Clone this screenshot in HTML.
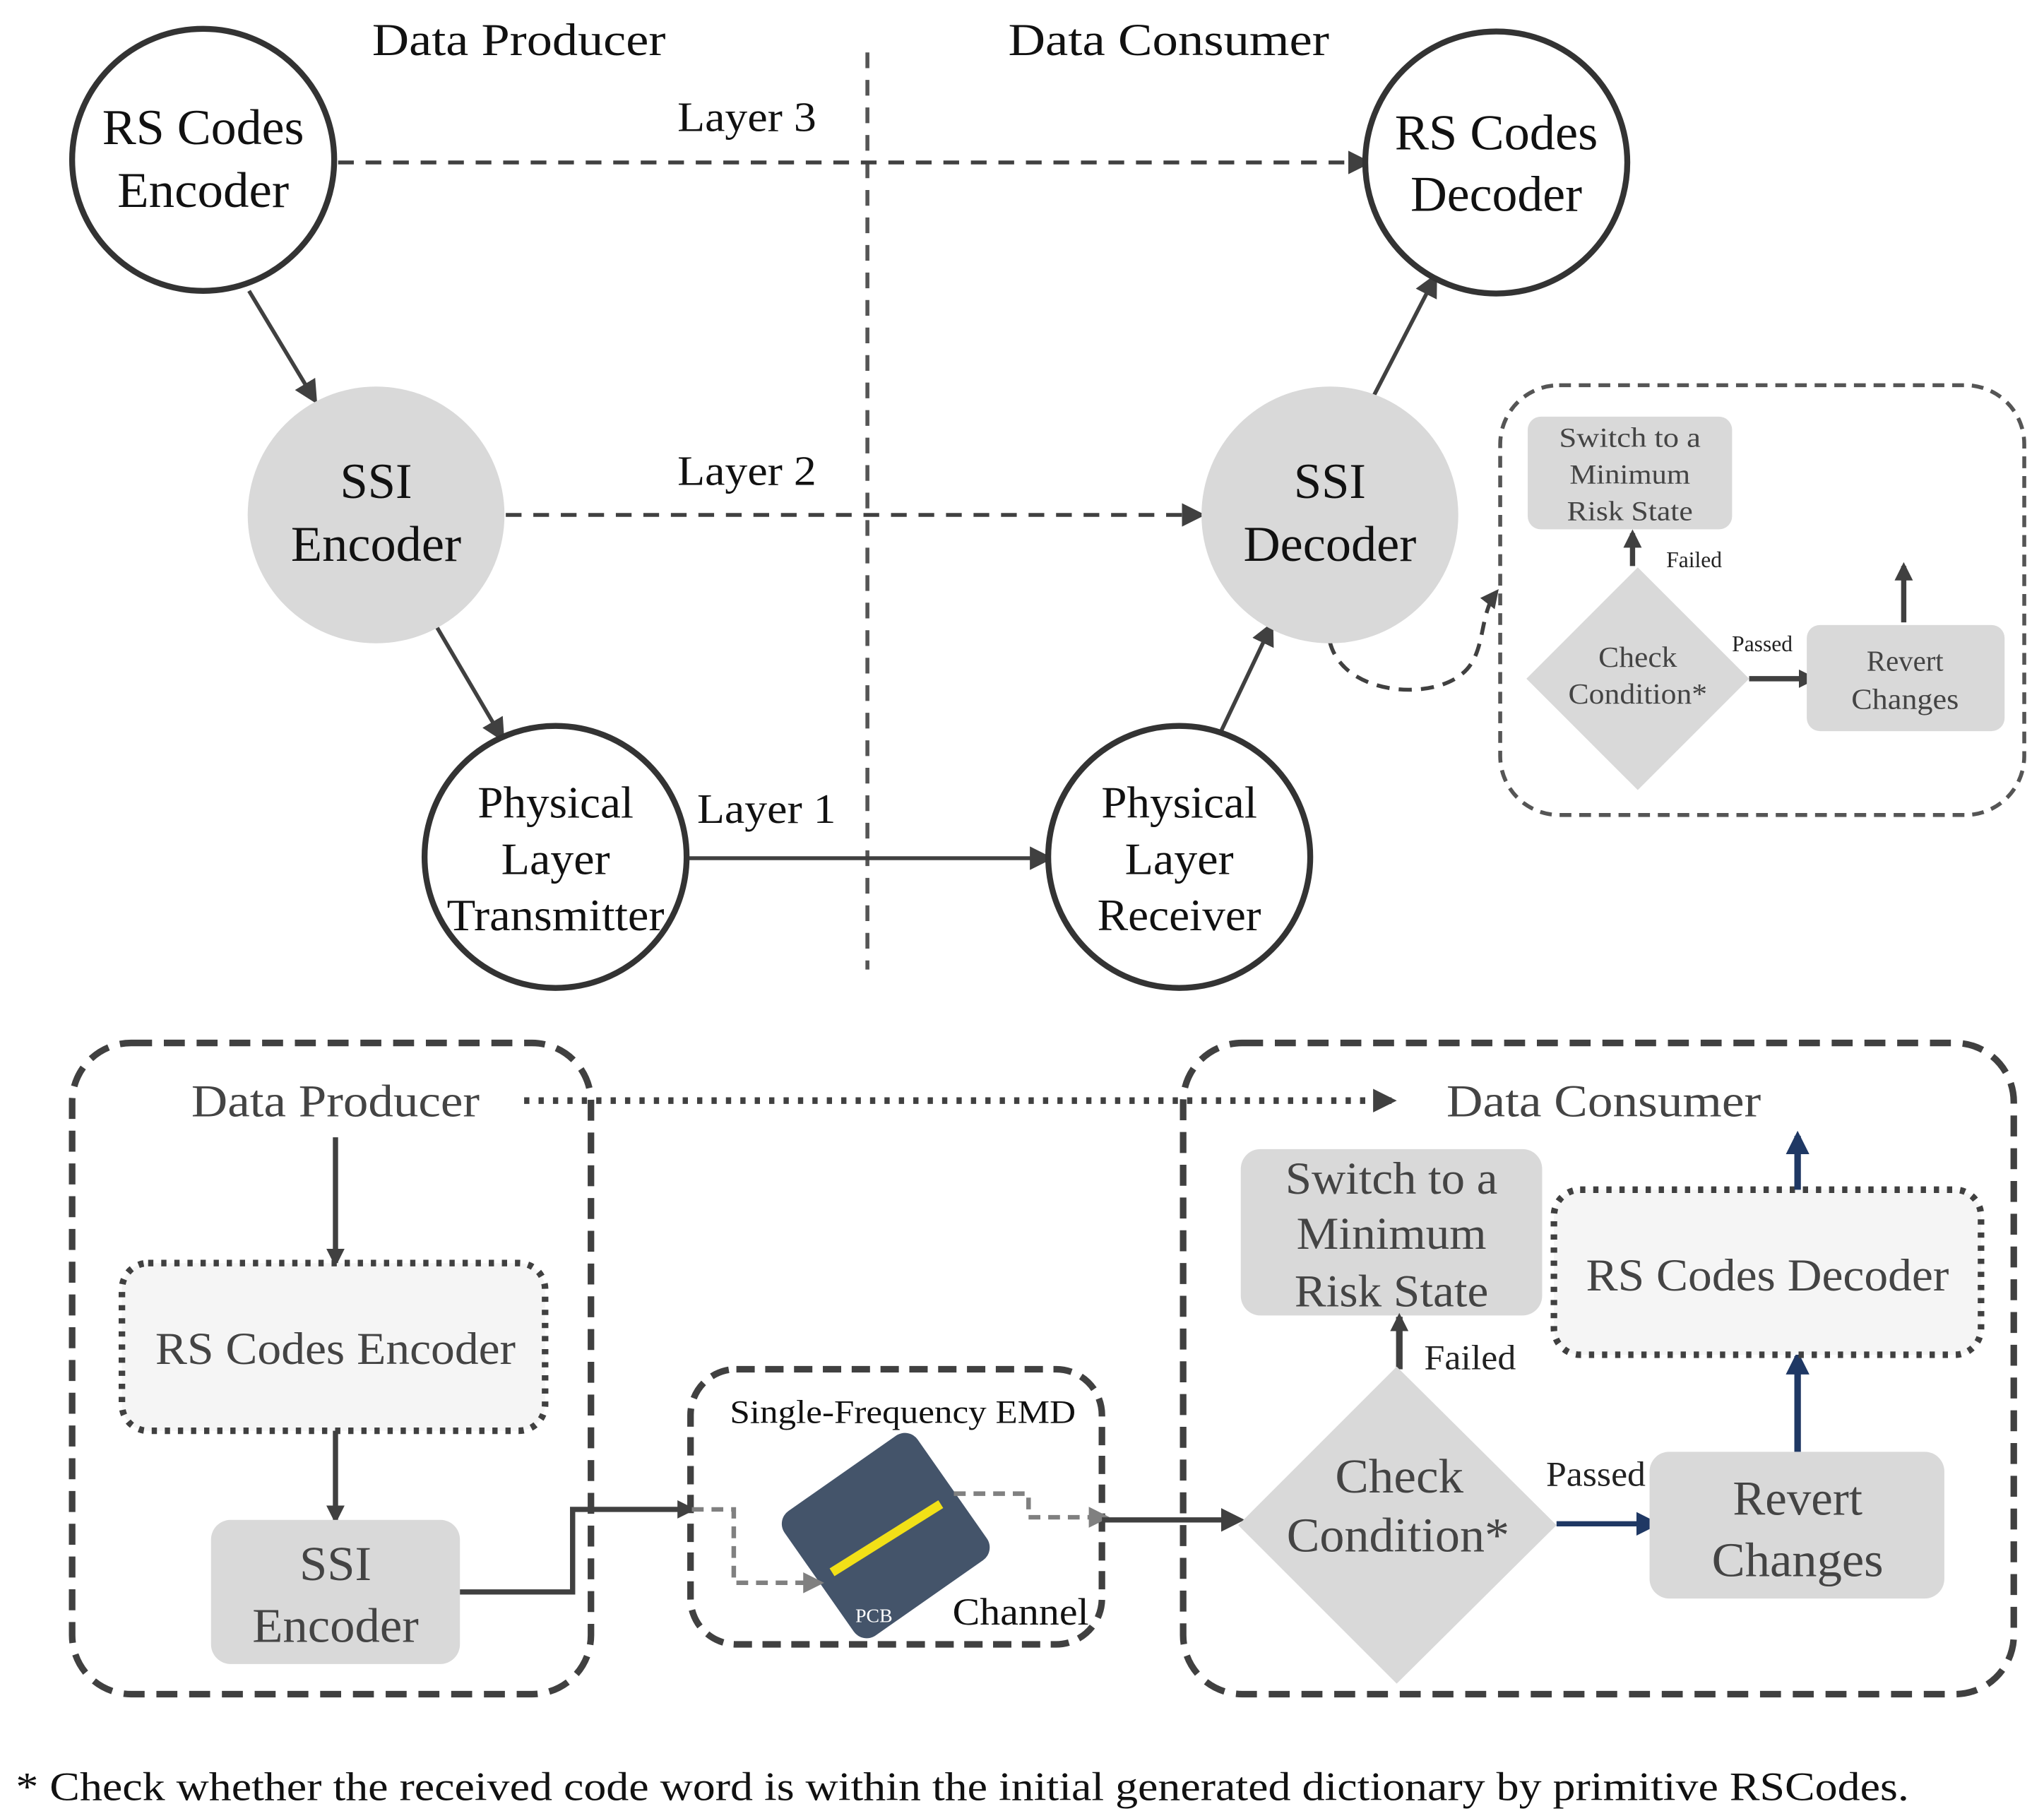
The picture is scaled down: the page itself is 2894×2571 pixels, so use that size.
<!DOCTYPE html>
<html><head><meta charset="utf-8"><style>
html,body{margin:0;padding:0;background:#fff}
svg{display:block}
text{font-family:"Liberation Serif",serif;text-anchor:middle}
</style></head><body>
<svg width="2894" height="2571" viewBox="0 0 1560 1386" xmlns="http://www.w3.org/2000/svg">
<defs>
<marker id="ab" markerWidth="18" markerHeight="18" refX="14" refY="9" orient="auto" markerUnits="userSpaceOnUse" viewBox="0 0 18 18"><path d="M0,0 L18,9 L0,18 z" fill="#404040"/></marker>
<marker id="an" markerWidth="18" markerHeight="18" refX="14" refY="9" orient="auto" markerUnits="userSpaceOnUse" viewBox="0 0 18 18"><path d="M0,0 L18,9 L0,18 z" fill="#1f3864"/></marker>
<marker id="ag" markerWidth="16" markerHeight="16" refX="12" refY="8" orient="auto" markerUnits="userSpaceOnUse" viewBox="0 0 16 16"><path d="M0,0 L16,8 L0,16 z" fill="#808080"/></marker>
<marker id="as" markerWidth="14" markerHeight="14" refX="11" refY="7" orient="auto" markerUnits="userSpaceOnUse" viewBox="0 0 14 14"><path d="M0,0 L14,7 L0,14 z" fill="#404040"/></marker>
</defs>

<line x1="662" y1="40" x2="662" y2="740" stroke="#555" stroke-width="3" stroke-dasharray="12,9"/>
<text x="396" y="42" font-size="35" fill="#111" textLength="224" lengthAdjust="spacingAndGlyphs">Data Producer</text>
<text x="892" y="42" font-size="35" fill="#111" textLength="245" lengthAdjust="spacingAndGlyphs">Data Consumer</text>

<g stroke="#404040" stroke-width="3" fill="none">
<line x1="258" y1="124" x2="1043" y2="124" stroke-dasharray="12,9" marker-end="url(#ab)"/>
<line x1="386" y1="393" x2="916" y2="393" stroke-dasharray="12,9" marker-end="url(#ab)"/>
<line x1="526" y1="655" x2="800" y2="655" marker-end="url(#ab)"/>
<line x1="190" y1="222" x2="240" y2="305" marker-end="url(#ab)"/>
<line x1="333" y1="478" x2="383" y2="563" marker-end="url(#ab)"/>
<line x1="932" y1="558" x2="970" y2="478" marker-end="url(#ab)"/>
<line x1="1048" y1="303" x2="1095" y2="212" marker-end="url(#ab)"/>
<path d="M1015,490 C1025,530 1090,535 1115,515 C1135,500 1128,470 1142,452" stroke-dasharray="10,7" marker-end="url(#as)"/>
</g>
<text x="570" y="100" font-size="32" fill="#111" textLength="106" lengthAdjust="spacingAndGlyphs">Layer 3</text>
<text x="570" y="370" font-size="32" fill="#111" textLength="106" lengthAdjust="spacingAndGlyphs">Layer 2</text>
<text x="585" y="628" font-size="32" fill="#111" textLength="106" lengthAdjust="spacingAndGlyphs">Layer 1</text>

<g stroke="#333" stroke-width="4.5" fill="#fff">
<circle cx="155" cy="122" r="100"/>
<circle cx="1142" cy="124" r="100"/>
<circle cx="424" cy="654" r="100"/>
<circle cx="900" cy="654" r="100"/>
</g>
<circle cx="287" cy="393" r="98" fill="#d9d9d9"/>
<circle cx="1015" cy="393" r="98" fill="#d9d9d9"/>
<g font-size="38" fill="#111">
<text x="155" y="110" textLength="154" lengthAdjust="spacingAndGlyphs">RS Codes</text><text x="155" y="158" textLength="131" lengthAdjust="spacingAndGlyphs">Encoder</text>
<text x="1142" y="114" textLength="155" lengthAdjust="spacingAndGlyphs">RS Codes</text><text x="1142" y="161" textLength="131" lengthAdjust="spacingAndGlyphs">Decoder</text>
<text x="287" y="380" textLength="55" lengthAdjust="spacingAndGlyphs">SSI</text><text x="287" y="428" textLength="130" lengthAdjust="spacingAndGlyphs">Encoder</text>
<text x="1015" y="380" textLength="55" lengthAdjust="spacingAndGlyphs">SSI</text><text x="1015" y="428" textLength="132" lengthAdjust="spacingAndGlyphs">Decoder</text>
</g>
<g font-size="34" fill="#111">
<text x="424" y="624" textLength="119" lengthAdjust="spacingAndGlyphs">Physical</text><text x="424" y="667" textLength="83" lengthAdjust="spacingAndGlyphs">Layer</text><text x="424" y="710" textLength="166" lengthAdjust="spacingAndGlyphs">Transmitter</text>
<text x="900" y="624" textLength="119" lengthAdjust="spacingAndGlyphs">Physical</text><text x="900" y="667" textLength="83" lengthAdjust="spacingAndGlyphs">Layer</text><text x="900" y="710" textLength="125" lengthAdjust="spacingAndGlyphs">Receiver</text>
</g>

<rect x="1145" y="294" width="400" height="328" rx="45" fill="none" stroke="#555" stroke-width="3" stroke-dasharray="9,6"/>
<rect x="1166" y="318" width="156" height="86" rx="10" fill="#d9d9d9"/>
<g font-size="21" fill="#444"><text x="1244" y="341" textLength="108" lengthAdjust="spacingAndGlyphs">Switch to a</text><text x="1244" y="369" textLength="92" lengthAdjust="spacingAndGlyphs">Minimum</text><text x="1244" y="397" textLength="96" lengthAdjust="spacingAndGlyphs">Risk State</text></g>
<line x1="1246" y1="432" x2="1246" y2="407" stroke="#404040" stroke-width="4" marker-end="url(#as)"/>
<text x="1293" y="433" font-size="17" fill="#222">Failed</text>
<polygon points="1250,433 1335,518 1250,603 1165,518" fill="#d9d9d9"/>
<g font-size="22" fill="#444"><text x="1250" y="509" textLength="60" lengthAdjust="spacingAndGlyphs">Check</text><text x="1250" y="537" textLength="106" lengthAdjust="spacingAndGlyphs">Condition*</text></g>
<text x="1345" y="497" font-size="17" fill="#222">Passed</text>
<line x1="1335" y1="518" x2="1384" y2="518" stroke="#404040" stroke-width="4" marker-end="url(#as)"/>
<rect x="1379" y="477" width="151" height="81" rx="10" fill="#d9d9d9"/>
<g font-size="22" fill="#444"><text x="1454" y="512">Revert</text><text x="1454" y="541" textLength="82" lengthAdjust="spacingAndGlyphs">Changes</text></g>
<line x1="1453" y1="475" x2="1453" y2="432" stroke="#404040" stroke-width="4" marker-end="url(#as)"/>

<rect x="55" y="796" width="396" height="497" rx="45" fill="none" stroke="#404040" stroke-width="5" stroke-dasharray="16,9"/>
<rect x="903" y="796" width="634" height="497" rx="45" fill="none" stroke="#404040" stroke-width="5" stroke-dasharray="16,9"/>
<text x="256" y="852" font-size="35" fill="#444" textLength="220" lengthAdjust="spacingAndGlyphs">Data Producer</text>
<text x="1224" y="852" font-size="35" fill="#444" textLength="240" lengthAdjust="spacingAndGlyphs">Data Consumer</text>
<line x1="400" y1="840" x2="1062" y2="840" stroke="#404040" stroke-width="5" stroke-dasharray="4,7" marker-end="url(#ab)"/>

<line x1="256" y1="868" x2="256" y2="964" stroke="#404040" stroke-width="4" marker-end="url(#as)"/>
<rect x="93" y="964" width="323" height="128" rx="20" fill="#f5f5f5" stroke="#404040" stroke-width="5" stroke-dasharray="4,6"/>
<text x="256" y="1041" font-size="35" fill="#444" textLength="275" lengthAdjust="spacingAndGlyphs">RS Codes Encoder</text>
<line x1="256" y1="1092" x2="256" y2="1160" stroke="#404040" stroke-width="4" marker-end="url(#as)"/>
<rect x="161" y="1160" width="190" height="110" rx="15" fill="#d9d9d9"/>
<g font-size="37" fill="#444"><text x="256" y="1206" textLength="55" lengthAdjust="spacingAndGlyphs">SSI</text><text x="256" y="1253" textLength="127" lengthAdjust="spacingAndGlyphs">Encoder</text></g>
<polyline points="351,1215 437,1215 437,1152 528,1152" fill="none" stroke="#404040" stroke-width="4" marker-end="url(#as)"/>

<rect x="527" y="1045" width="314" height="210" rx="35" fill="none" stroke="#404040" stroke-width="5" stroke-dasharray="14,8"/>
<text x="689" y="1086" font-size="25" fill="#111" textLength="264" lengthAdjust="spacingAndGlyphs">Single-Frequency EMD</text>
<g transform="translate(676,1172) rotate(-35)">
<rect x="-62" y="-58" width="124" height="116" rx="12" fill="#44546a"/>
</g>
<line x1="635" y1="1200" x2="718" y2="1148" stroke="#f2e017" stroke-width="7"/>
<text x="667" y="1238" font-size="15" fill="#fff">PCB</text>
<text x="779" y="1240" font-size="29" fill="#111" textLength="104" lengthAdjust="spacingAndGlyphs">Channel</text>
<polyline points="528,1152 560,1152 560,1208 625,1208" fill="none" stroke="#808080" stroke-width="3.5" stroke-dasharray="9,6" marker-end="url(#ag)"/>
<polyline points="728,1140 785,1140 785,1158 843,1158" fill="none" stroke="#808080" stroke-width="3.5" stroke-dasharray="9,6" marker-end="url(#ag)"/>
<line x1="841" y1="1160" x2="946" y2="1160" stroke="#404040" stroke-width="4" marker-end="url(#ab)"/>

<rect x="947" y="877" width="230" height="127" rx="15" fill="#d9d9d9"/>
<g font-size="35" fill="#444"><text x="1062" y="911" textLength="162" lengthAdjust="spacingAndGlyphs">Switch to a</text><text x="1062" y="953" textLength="145" lengthAdjust="spacingAndGlyphs">Minimum</text><text x="1062" y="997" textLength="148" lengthAdjust="spacingAndGlyphs">Risk State</text></g>
<line x1="1068" y1="1045" x2="1068" y2="1005" stroke="#404040" stroke-width="5" marker-end="url(#as)"/>
<text x="1122" y="1045" font-size="27" fill="#222" textLength="70" lengthAdjust="spacingAndGlyphs">Failed</text>
<polygon points="1066,1043 1188,1164 1066,1285 945,1164" fill="#d9d9d9"/>
<g font-size="37" fill="#444"><text x="1068" y="1139" textLength="98" lengthAdjust="spacingAndGlyphs">Check</text><text x="1067" y="1184" textLength="170" lengthAdjust="spacingAndGlyphs">Condition*</text></g>
<text x="1218" y="1134" font-size="27" fill="#222" textLength="76" lengthAdjust="spacingAndGlyphs">Passed</text>
<line x1="1188" y1="1163" x2="1263" y2="1163" stroke="#1f3864" stroke-width="4" marker-end="url(#an)"/>
<rect x="1259" y="1108" width="225" height="112" rx="15" fill="#d9d9d9"/>
<g font-size="37" fill="#444"><text x="1372" y="1156" textLength="99" lengthAdjust="spacingAndGlyphs">Revert</text><text x="1372" y="1203" textLength="131" lengthAdjust="spacingAndGlyphs">Changes</text></g>
<line x1="1372" y1="1108" x2="1372" y2="1035" stroke="#1f3864" stroke-width="5" marker-end="url(#an)"/>
<rect x="1186" y="908" width="326" height="126" rx="20" fill="#f5f5f5" stroke="#404040" stroke-width="5" stroke-dasharray="4,6"/>
<text x="1349" y="985" font-size="35" fill="#444" textLength="277" lengthAdjust="spacingAndGlyphs">RS Codes Decoder</text>
<line x1="1372" y1="908" x2="1372" y2="867" stroke="#1f3864" stroke-width="5" marker-end="url(#an)"/>

<text x="12" y="1374" font-size="31" fill="#111" style="text-anchor:start" textLength="1445" lengthAdjust="spacingAndGlyphs">* Check whether the received code word is within the initial generated dictionary by primitive RSCodes.</text>
</svg>
</body></html>
